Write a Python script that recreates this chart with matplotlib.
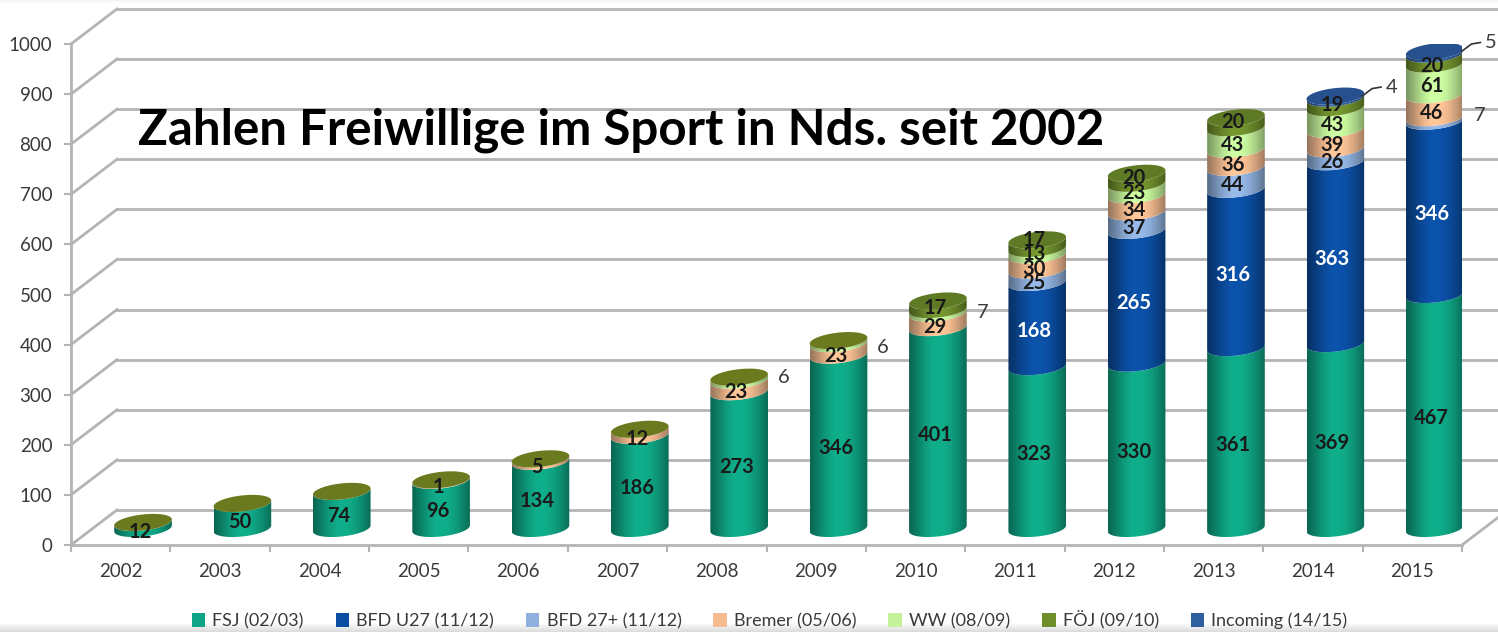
import numpy as np
import matplotlib
matplotlib.use('Agg')
import matplotlib.pyplot as plt
from matplotlib.patches import Patch, Polygon

plt.rcParams['font.family'] = ['Lato', 'DejaVu Sans']

# Werte aus dem Diagramm
years = [2002, 2003, 2004, 2005, 2006, 2007, 2008, 2009, 2010, 2011, 2012, 2013, 2014, 2015]
fsj = [12, 50, 74, 96, 134, 186, 273, 346, 401, 323, 330, 361, 369, 467]
bfd_u27 = [0, 0, 0, 0, 0, 0, 0, 0, 0, 168, 265, 316, 363, 346]
bfd_27 = [0, 0, 0, 0, 0, 0, 0, 0, 0, 25, 37, 44, 26, 7]
bremer = [0, 0, 0, 1, 5, 12, 23, 23, 29, 30, 34, 36, 39, 46]
ww = [0, 0, 0, 0, 0, 0, 6, 6, 7, 13, 23, 43, 43, 61]
foej = [0, 0, 0, 0, 0, 0, 0, 0, 17, 17, 20, 20, 19, 20]
incoming = [0, 0, 0, 0, 0, 0, 0, 0, 0, 0, 0, 0, 4, 5]

series = [fsj, bfd_u27, bfd_27, bremer, ww, foej, incoming]
names = ['FSJ (02/03)', 'BFD U27 (11/12)', 'BFD 27+ (11/12)', 'Bremer (05/06)',
         'WW (08/09)', 'FÖJ (09/10)', 'Incoming (14/15)']
colors = ['#0fa584', '#0b4ea2', '#8fb0dc', '#f4bc90', '#c4f29a', '#6f8f2c', '#2f5f9e']
top_colors = ['#6b7a1e', '#0b4ea2', '#8fb0dc', '#f4bc90', '#c4f29a', '#5f7a24', '#27508f']
value_colors = ['#1a1a1a', 'white', '#1a1a1a', '#1a1a1a', '#1a1a1a', '#1a1a1a', '#1a1a1a']
grid_col = '#b4b4b4'
text_col = '#3a3a3a'

# Tiefe und Zylinder in Datenkoordinaten
depth_x = 0.463
depth_y = 70
bar_dx = 0.225
bar_y0 = 33
half_w = 0.29
ell_h = 16
tilt = 6
# Verschiebung der Zahlen neben den Balken, je Jahr
side_shift = {6: 16, 7: 3, 8: 10, 13: 20}
# Zahlen in engen Abschnitten etwas auseinanderziehen (Jahr, Reihe)
nudge = {(8, 5): 7, (9, 4): 8, (9, 5): 22, (10, 4): 5, (10, 5): 14, (11, 5): 14, (12, 5): 9}

fig = plt.figure(figsize=(14.98, 6.32), dpi=100)

# leichter Grauverlauf am unteren und oberen Bildrand
bg = fig.add_axes([0, 0, 1, 1], zorder=-1)
rows = np.ones(632)
rows[:4] = np.linspace(0.96, 1, 4)
rows[622:] = np.linspace(1, 0.86, 10)
bg.imshow(rows[:, None], cmap='gray', vmin=0, vmax=1, aspect='auto')
bg.axis('off')

ax = fig.add_axes([71 / 1498, 87 / 632, 1391 / 1498, 501 / 632])
ax.patch.set_alpha(0)
ax.set_xlim(-0.5, 13.5)
ax.set_ylim(0, 1000)

# Rueckwand und Seitenlinien
for v in range(0, 1100, 100):
    ax.plot([-0.5 + depth_x, 14.0], [v + depth_y, v + depth_y], color=grid_col, lw=2,
            clip_on=False, zorder=1)
    ax.plot([-0.5, -0.5 + depth_x], [v, v + depth_y], color=grid_col, lw=2,
            clip_on=False, zorder=1)
ax.plot([13.5, 13.5 + depth_x], [0, depth_y], color=grid_col, lw=2, clip_on=False, zorder=1)


def ellipse(cx, cy):
    t = np.linspace(0, 2 * np.pi, 80)
    return np.column_stack([cx + half_w * np.cos(t), cy + ell_h * np.sin(t) + tilt * np.cos(t)])


def segment(cx, lo, hi):
    # Mantelflaeche: oben und unten mit Ellipsenbogen
    t = np.linspace(np.pi, 2 * np.pi, 40)
    xs = cx + half_w * np.cos(t)
    low = lo + ell_h * np.sin(t) + tilt * np.cos(t)
    high = hi + ell_h * np.sin(t) + tilt * np.cos(t)
    return np.vstack([np.column_stack([xs, low]), np.column_stack([xs[::-1], high[::-1]])])


shade = np.array([0.62, 0.78, 0.95, 1.06, 1.06, 0.98, 0.84, 0.66])
shade_x = np.interp(np.linspace(0, 1, 60), np.linspace(0, 1, len(shade)), shade)

for i, year in enumerate(years):
    cx = i + bar_dx
    base = bar_y0
    top_col = top_colors[0]
    z = 3 + i * 0.01
    for s, vals in enumerate(series):
        v = vals[i]
        if v == 0:
            continue
        rgb = np.array(matplotlib.colors.to_rgb(colors[s]))
        grad = np.clip(shade_x[None, :, None] * rgb[None, None, :], 0, 1)
        im = ax.imshow(grad, extent=[cx - half_w, cx + half_w, base - 25, base + v + 25],
                       aspect='auto', zorder=z, origin='lower')
        poly = Polygon(segment(cx, base, base + v), closed=True, transform=ax.transData,
                       fc='none', ec='none')
        ax.add_patch(poly)
        im.set_clip_path(poly)
        base += v
        if s >= 5:
            top_col = top_colors[s]
    ax.add_patch(Polygon(ellipse(cx, base), closed=True, fc=top_col, ec='none', zorder=z + 0.001))
ax.set_xlim(-0.5, 13.5)
ax.set_ylim(0, 1000)

# Wertebeschriftung
for i, year in enumerate(years):
    cx = i + bar_dx
    base = bar_y0
    for s, vals in enumerate(series):
        v = vals[i]
        if v == 0:
            continue
        mid = base + v / 2 - 13 + nudge.get((i, s), 0)
        if s == 6:
            # Incoming steht mit Linie neben dem Deckel
            top = base + v
            ax.plot([cx + 0.27, cx + 0.37, cx + 0.46], [top, top + 15, top + 18],
                    color='#333333', lw=1.2, clip_on=False, zorder=5)
            ax.text(cx + 0.565, top + 17, str(v), ha='center', va='center', fontsize=14.5,
                    color=text_col, zorder=6, clip_on=False)
        elif v <= 7 and i >= 6:
            ax.text(cx + half_w + 0.16, mid + side_shift[i], str(v), ha='center', va='center',
                    fontsize=14.5, color=text_col, zorder=6)
        else:
            ax.text(cx - 0.03, mid, str(v), ha='center', va='center', fontsize=14.5,
                    fontweight='bold', color=value_colors[s], zorder=6)
        base += v

# Achsen
for sp in ['top', 'right']:
    ax.spines[sp].set_visible(False)
for sp in ['left', 'bottom']:
    ax.spines[sp].set_color(grid_col)
    ax.spines[sp].set_linewidth(2)
ax.set_yticks(range(0, 1100, 100))
ax.set_xticks(range(len(years)))
ax.set_xticklabels(years)
ax.set_xticks(np.arange(-0.5, 14, 1), minor=True)
ax.tick_params(axis='x', which='major', length=0, labelsize=13.5, labelcolor=text_col, pad=13)
ax.tick_params(axis='x', which='minor', length=5, width=1.5, color=grid_col)
ax.tick_params(axis='y', length=5, width=1.5, color=grid_col, labelsize=13.5, labelcolor=text_col, pad=8.5)

# Titel
fig.text(138 / 1498, 1 - 130 / 632, 'Zahlen Freiwillige im Sport in Nds. seit 2002', fontsize=35.5,
         fontweight='bold', color='black', ha='left', va='center')

# Legende
handles = [Patch(fc=c, ec='none') for c in colors]
fig.legend(handles, names, loc='lower left', bbox_to_anchor=(179 / 1498, -10 / 632), ncol=7,
           frameon=False, fontsize=13, labelcolor=text_col, handlelength=0.75, handleheight=0.75,
           handletextpad=0.4, columnspacing=1.76, borderpad=0.2)

fig.savefig('out.png', dpi=100)
